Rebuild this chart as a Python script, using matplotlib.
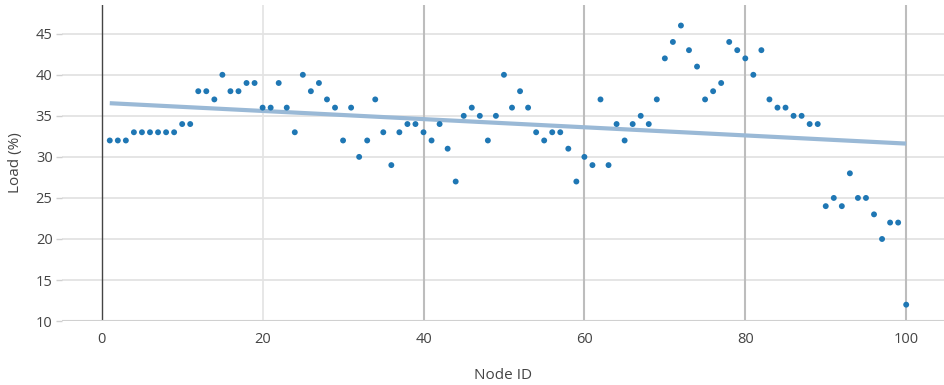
import matplotlib.pyplot as plt
import numpy as np

# node load data
node_id = list(range(1, 101))
load = [32, 32, 32, 33, 33, 33, 33, 33, 33, 34,
        34, 38, 38, 37, 40, 38, 38, 39, 39, 36,
        36, 39, 36, 33, 40, 38, 39, 37, 36, 32,
        36, 30, 32, 37, 33, 29, 33, 34, 34, 33,
        32, 34, 31, 27, 35, 36, 35, 32, 35, 40,
        36, 38, 36, 33, 32, 33, 33, 31, 27, 30,
        29, 37, 29, 34, 32, 34, 35, 34, 37, 42,
        44, 46, 43, 41, 37, 38, 39, 44, 43, 42,
        40, 43, 37, 36, 36, 35, 35, 34, 34, 24,
        25, 24, 28, 25, 25, 23, 20, 22, 22, 12]
x_ticks = [0, 20, 40, 60, 80, 100]
y_ticks = [10, 15, 20, 25, 30, 35, 40, 45]

plt.rcParams['font.family'] = ['Open Sans', 'DejaVu Sans']

fig = plt.figure(figsize=(9.44, 3.85), dpi=100)
ax = fig.add_axes([0.066, 0.166, 0.934, 0.821])

x = np.array(node_id)
y = np.array(load)
k, b = np.polyfit(x, y, 1)
fit_x = np.array([x.min(), x.max()])

# grid
for yt in y_ticks[1:]:
    ax.axhline(yt, color='#e3e3e3', lw=1.3, zorder=0)
for xt in x_ticks[1:]:
    c = '#e3e3e3' if xt == 20 else '#bdbdbd'
    ax.axvline(xt, color=c, lw=1.5 if xt > 20 else 1.2, zorder=0)
ax.axvline(0, color='#444444', lw=1.0, zorder=1)
ax.axhline(10, color='#d0d0d0', lw=1.5, zorder=1)

ax.plot(fit_x, k * fit_x + b, color='#9ab9d6', lw=3.0, solid_capstyle='butt', zorder=2)
ax.scatter(x, y, s=18, color='#1f77b4', edgecolors='none', zorder=3)

ax.set_xlim(-4.9, 104.7)
ax.set_ylim(10, 48.5)
ax.set_xticks(x_ticks)
ax.set_yticks(y_ticks)
for s in ax.spines.values():
    s.set_visible(False)
ax.tick_params(axis='x', length=0, pad=8, labelsize=10.5, labelcolor='#444444')
ax.tick_params(axis='y', length=4, width=1, color='#d0d0d0', pad=3, labelsize=10.5, labelcolor='#444444')
ax.set_xlabel('Node ID', fontsize=11, color='#444444', labelpad=15)
ax.set_ylabel('Load (%)', fontsize=11, color='#444444', labelpad=9)

fig.savefig('out.png', dpi=100)
